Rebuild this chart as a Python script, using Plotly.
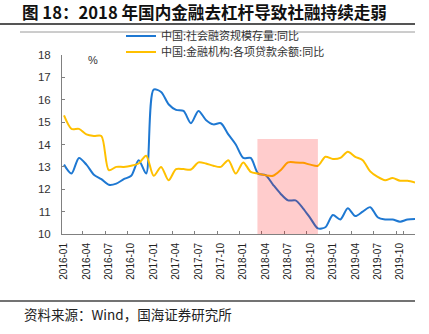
import pandas as pd
import plotly.graph_objects as go

# ---------------- data ----------------
months = list(pd.date_range("2016-01-01", periods=48, freq="MS").strftime("%Y-%m"))

tsf_yoy = [13.1, 12.7, 13.4, 13.1, 12.65, 12.45, 12.2, 12.25, 12.45, 12.6, 13.3, 12.7,
           16.45, 16.35, 15.8, 15.55, 15.5, 14.95, 15.5, 15.1, 14.9, 14.95, 14.45, 14.0,
           13.4, 13.4, 12.7, 12.63, 12.2, 11.8, 11.5, 11.5, 11.15, 10.7, 10.25, 10.3,
           10.85, 10.65, 11.15, 10.8, 11.0, 11.2, 10.75, 10.65, 10.65, 10.55, 10.65, 10.67]

loan_yoy = [15.3, 14.7, 14.7, 14.45, 14.38, 14.38, 12.85, 13.0, 13.0, 13.05, 13.15, 13.5,
            12.6, 13.0, 12.4, 12.9, 12.9, 12.88, 13.2, 13.15, 13.05, 13.0, 13.3, 12.7,
            13.2, 12.78, 12.7, 12.62, 12.6, 12.85, 13.2, 13.2, 13.18, 13.1, 13.05, 13.45,
            13.35, 13.4, 13.68, 13.45, 13.3, 12.8, 12.55, 12.4, 12.5, 12.38, 12.38, 12.3]

series_names = ["中国:社会融资规模存量:同比", "中国:金融机构:各项贷款余额:同比"]
tick_labels = months[::3]
shade_start, shade_end, shade_top = "2018-03", "2018-11", 14.25
y_min, y_max = 10, 18

title_text = "图 18：2018 年国内金融去杠杆导致社融持续走弱"
source_text = "资料来源：Wind，国海证券研究所"

# ---------------- layout helpers ----------------
W, H = 429, 334
L, R, T, B = 62, 14, 55, 100
PW, PH = W - L - R, H - T - B


def px(x):
    return (x - L) / PW


def py(y):
    return (H - B - y) / PH


BLUE = "#1E78D2"
GOLD = "#FFC000"
AXIS = "#808080"
CJK = "Noto Sans CJK SC"

fig = go.Figure()
fig.add_trace(go.Scatter(x=months, y=tsf_yoy, mode="lines", name=series_names[0],
                         line=dict(color=BLUE, width=2, shape="spline", smoothing=0.8),
                         legend="legend", showlegend=True))
fig.add_trace(go.Scatter(x=months, y=loan_yoy, mode="lines", name=series_names[1],
                         line=dict(color=GOLD, width=2, shape="spline", smoothing=0.8),
                         legend="legend2", showlegend=True))

fig.add_shape(type="rect", xref="x", yref="y",
              x0=months.index(shade_start) - 0.1, x1=months.index(shade_end),
              y0=y_min, y1=shade_top, fillcolor="red", opacity=0.2,
              line_width=0, layer="above")

# decorative rules
fig.add_shape(type="line", xref="paper", yref="paper", x0=px(0), x1=px(415),
              y0=py(24), y1=py(24), line=dict(color="#555555", width=2))
fig.add_shape(type="line", xref="paper", yref="paper", x0=px(20), x1=px(415),
              y0=py(32), y1=py(32), line=dict(color="#9a9a9a", width=1))
fig.add_shape(type="line", xref="paper", yref="paper", x0=px(0), x1=px(415),
              y0=py(301), y1=py(301), line=dict(color="#444444", width=1.5))

fig.add_annotation(text="%", xref="paper", yref="paper", x=px(86), y=py(52),
                   showarrow=False, font=dict(family="Arial", size=11, color="#333"))
fig.add_annotation(text=source_text, xref="paper", yref="paper", x=px(22), y=py(314),
                   xanchor="left", yanchor="middle", showarrow=False,
                   font=dict(family=CJK, size=13.5, color="#222"))

leg_common = dict(xref="paper", yref="paper", xanchor="left", yanchor="middle",
                  bgcolor="rgba(0,0,0,0)", font=dict(family=CJK, size=11, color="#333"))

fig.update_layout(
    width=W, height=H,
    showlegend=True,
    margin=dict(l=L, r=R, t=T, b=B, autoexpand=False),
    paper_bgcolor="white", plot_bgcolor="white",
    title=dict(text=title_text, xref="container", yref="container",
               x=22 / W, y=1 - 13 / H, xanchor="left", yanchor="middle",
               font=dict(family=CJK, size=16.6, color="#111", weight="bold")),
    legend=dict(x=px(121), y=py(36), **leg_common),
    legend2=dict(x=px(121), y=py(52), **leg_common),
    xaxis=dict(type="category", range=[-0.27, 47], tickmode="array", tickvals=tick_labels,
               tickangle=-90, ticks="inside", ticklen=3, tickson="boundaries",
               tickcolor=AXIS, showline=True, linecolor=AXIS, linewidth=1,
               showgrid=False, zeroline=False, ticklabelstandoff=4,
               tickfont=dict(family="Arial", size=10, color="#222")),
    yaxis=dict(range=[y_min, y_max], dtick=1, ticks="inside", ticklen=3,
               tickcolor=AXIS, showline=True, linecolor=AXIS, linewidth=1,
               showgrid=False, zeroline=False, ticklabelstandoff=8,
               tickfont=dict(family="Arial", size=11.5, color="#333")),
)

fig.write_html("out.html")
